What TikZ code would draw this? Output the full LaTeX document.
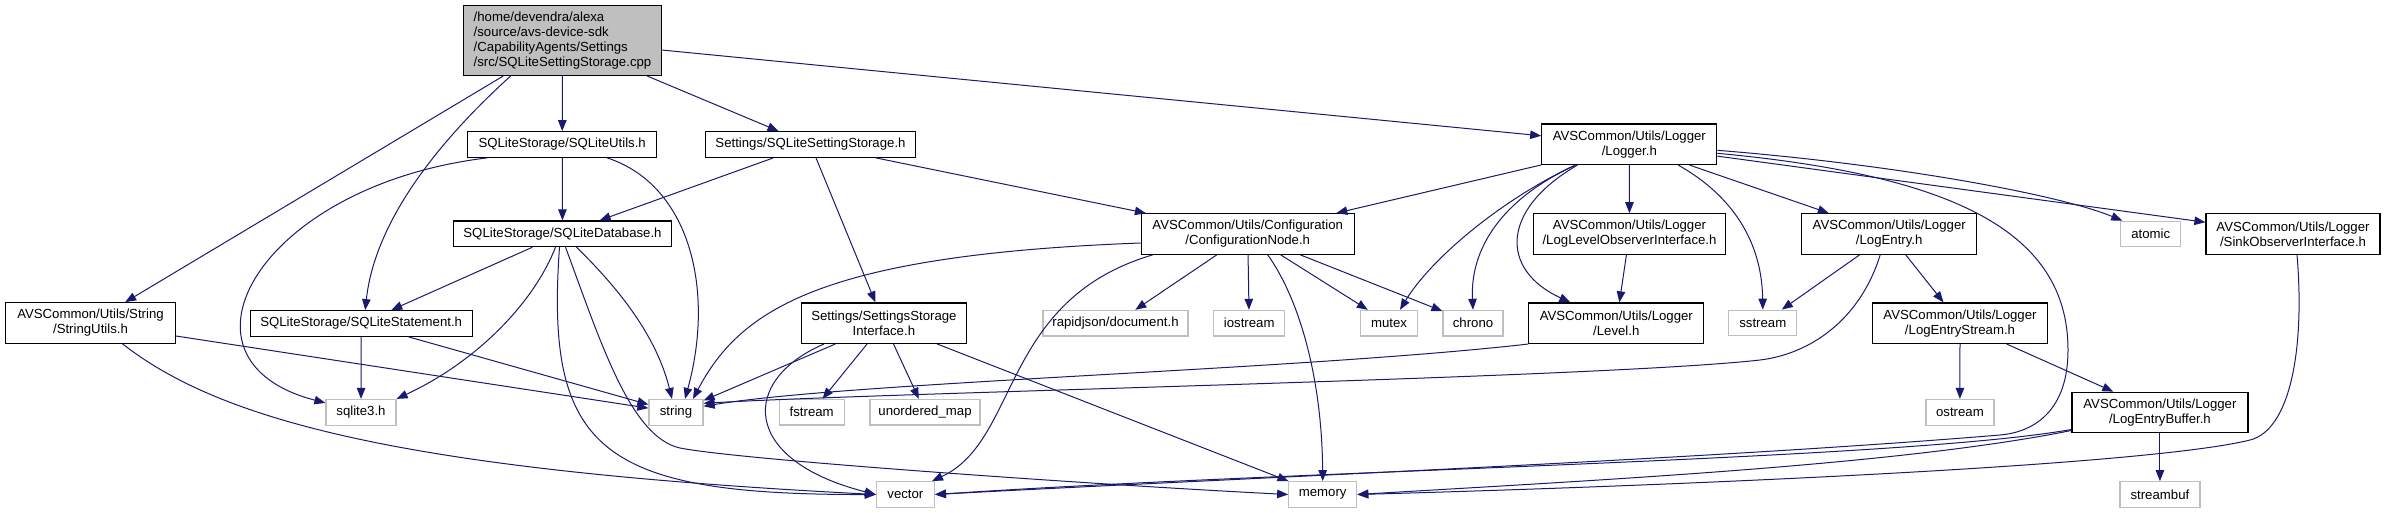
\documentclass[tikz,border=0pt]{standalone}
\usepackage{fontspec}
\setmainfont{Liberation Sans}
\usetikzlibrary{arrows.meta}
\definecolor{linkblue}{HTML}{191970}
\definecolor{sysgray}{HTML}{BFBFBF}
\definecolor{rootfill}{HTML}{BFBFBF}
\tikzset{
  hdr/.style={draw=black, line width=1.2pt, fill=white, align=center, inner sep=0pt,
              minimum height=25.6pt, font=\fontsize{13.2}{15}\selectfont},
  sys/.style={hdr, draw=sysgray},
  two/.style={minimum height=40.5pt},
  src/.style={hdr, fill=rootfill, align=left, minimum height=70pt},
  dep/.style={-{Triangle[length=11pt, width=8.5pt]}, line width=1pt, draw=linkblue},
}

\begin{document}
\begin{tikzpicture}[x=1pt, y=-1pt]
    \useasboundingbox (0,0) rectangle (2387,513);
    % files
    \node[src, minimum width=198pt] (src) at (562.5,40.5) {/home/devendra/alexa\\/source/avs-device-sdk\\/CapabilityAgents/Settings\\/src/SQLiteSettingStorage.cpp};
    \node[hdr, minimum width=189pt] (utils) at (562.2,144.5) {SQLiteStorage/SQLiteUtils.h};
    \node[hdr, minimum width=210pt] (setst) at (810.5,144.5) {Settings/SQLiteSettingStorage.h};
    \node[hdr, two, minimum width=175pt] (logger) at (1629.3,144.3) {AVSCommon/Utils/Logger\\/Logger.h};
    \node[hdr, two, minimum width=170pt] (strutil) at (90.5,323) {AVSCommon/Utils/String\\/StringUtils.h};
    \node[hdr, minimum width=218pt] (db) at (562.5,233.8) {SQLiteStorage/SQLiteDatabase.h};
    \node[hdr, minimum width=222pt] (stmt) at (361.2,323.5) {SQLiteStorage/SQLiteStatement.h};
    \node[hdr, two, minimum width=213pt] (conf) at (1247.7,234) {AVSCommon/Utils/Configuration\\/ConfigurationNode.h};
    \node[hdr, two, minimum width=192pt] (lvlobs) at (1629.5,234) {AVSCommon/Utils/Logger\\/LogLevelObserverInterface.h};
    \node[hdr, two, minimum width=175pt] (entry) at (1889.2,234) {AVSCommon/Utils/Logger\\/LogEntry.h};
    \node[sys, minimum width=60pt] (atomic) at (2150.8,234) {atomic};
    \node[hdr, two, minimum width=174pt] (sink) at (2293,234) {AVSCommon/Utils/Logger\\/SinkObserverInterface.h};
    \node[hdr, two, minimum width=165pt] (stif) at (883.9,323.2) {Settings/SettingsStorage\\Interface.h};
    \node[sys, minimum width=145pt] (rjson) at (1115.5,323.2) {rapidjson/document.h};
    \node[sys, minimum width=71pt] (iostream) at (1249.2,323.2) {iostream};
    \node[sys, minimum width=57pt] (mutex) at (1389,323.2) {mutex};
    \node[sys, minimum width=60pt] (chrono) at (1473,323.2) {chrono};
    \node[hdr, two, minimum width=175pt] (level) at (1616.3,323.2) {AVSCommon/Utils/Logger\\/Level.h};
    \node[sys, minimum width=68pt] (sstream) at (1762.8,323) {sstream};
    \node[hdr, two, minimum width=175pt] (stream) at (1960,323.2) {AVSCommon/Utils/Logger\\/LogEntryStream.h};
    \node[sys, minimum width=70pt] (sqlite) at (361,412.3) {sqlite3.h};
    \node[sys, minimum width=54pt] (string) at (676,412.3) {string};
    \node[sys, minimum width=65pt] (fstream) at (811.7,412.2) {fstream};
    \node[sys, minimum width=110pt] (umap) at (925,412.2) {unordered\_map};
    \node[sys, minimum width=68pt] (ostream) at (1959.9,412.3) {ostream};
    \node[hdr, two, minimum width=176pt] (buffer) at (2159.9,412.5) {AVSCommon/Utils/Logger\\/LogEntryBuffer.h};
    \node[sys, minimum width=58pt] (vector) at (905.4,494.5) {vector};
    \node[sys, minimum width=68pt] (memory) at (1322.7,494.5) {memory};
    \node[sys, minimum width=80pt] (sbuf) at (2159.9,494.5) {streambuf};
    % includes of the .cpp
    \draw[dep] (src) -- (utils);
    \draw[dep] (src) -- (setst);
    \draw[dep] (src) -- (logger);
    \draw[dep] (src) -- (strutil);
    \draw[dep] ([xshift=-52pt]src.south) .. controls (440,140) and (375,220) .. ([xshift=4pt]stmt.north);
    % SQLite headers
    \draw[dep] ([xshift=-75pt]utils.south) .. controls (260,185) and (160,360) .. ([yshift=-4pt]sqlite.north west);
    \draw[dep] ([xshift=45pt]utils.south) .. controls (690,185) and (715,290) .. ([xshift=9pt]string.north);
    \draw[dep] (utils) -- (db);
    \draw[dep] (setst) -- (db);
    \draw[dep] (setst) -- (conf);
    \draw[dep] (setst) -- (stif);
    \draw[dep] (db) -- (stmt);
    \draw[dep] ([xshift=-7pt]db.south) .. controls (535,300) and (480,360) .. (sqlite.north east);
    \draw[dep] ([xshift=14pt]db.south) .. controls (610,280) and (655,330) .. ([xshift=-4pt]string.north);
    \draw[dep] ([xshift=-3pt]db.south) .. controls (545,450) and (600,495) .. (vector.west);
    \draw[dep] ([xshift=3pt]db.south) .. controls (600,340) and (630,437) .. (680,448) .. controls (740,460) and (1100,485) .. (memory.west);
    \draw[dep] (strutil) -- (string);
    \draw[dep] ([xshift=32pt]strutil.south) .. controls (220,420) and (400,470) .. (vector.west);
    \draw[dep] (stmt) -- (sqlite);
    \draw[dep] (stmt) -- (string);
    % configuration and storage interface
    \draw[dep] ([yshift=-9pt]conf.west) .. controls (820,255) and (740,310) .. ([xshift=17pt]string.north);
    \draw[dep] ([xshift=-95pt]conf.south) .. controls (1000,300) and (1020,440) .. ([xshift=-3pt]vector.north east);
    \draw[dep] (conf) -- (rjson);
    \draw[dep] (conf) -- (iostream);
    \draw[dep] (conf) -- (mutex);
    \draw[dep] (conf) -- (chrono);
    \draw[dep] ([xshift=20pt]conf.south) .. controls (1300,300) and (1322,380) .. (memory.north);
    \draw[dep] (stif) -- (string);
    \draw[dep] ([xshift=-60pt]stif.south) .. controls (740,380) and (740,460) .. (vector.west);
    \draw[dep] (stif) -- (fstream);
    \draw[dep] (stif) -- (umap);
    \draw[dep] (stif) -- (memory);
    % logger
    \draw[dep] (logger) -- (conf);
    \draw[dep] ([xshift=-54pt]logger.south) .. controls (1500,200) and (1430,260) .. ([xshift=11pt]mutex.north);
    \draw[dep] ([xshift=-54pt]logger.south) .. controls (1500,200) and (1470,250) .. (chrono.north);
    \draw[dep] ([xshift=-52pt]logger.south) .. controls (1500,210) and (1500,270) .. ([xshift=-46pt]level.north);
    \draw[dep] (logger) -- (lvlobs);
    \draw[dep] (lvlobs) -- (level);
    \draw[dep] ([xshift=49pt]logger.south) .. controls (1740,200) and (1762,250) .. (sstream.north);
    \draw[dep] (logger) -- (entry);
    \draw[dep] ([yshift=-9pt]logger.east) .. controls (1950,175) and (2068,230) .. (2068,350) .. controls (2068,410) and (2035,432) .. (2000,435) .. controls (1700,460) and (1200,480) .. (vector.east);
    \draw[dep] ([yshift=-6pt]logger.east) .. controls (1900,165) and (2060,195) .. ([xshift=2pt]atomic.north west);
    \draw[dep] (logger) -- (sink);
    \draw[dep] (entry) -- (sstream);
    \draw[dep] (entry) -- (stream);
    \draw[dep] ([xshift=-9pt]entry.south) .. controls (1860,320) and (1810,354) .. (1760,360) .. controls (1600,378) and (900,392) .. ([yshift=9pt]string.east);
    \draw[dep] (level.south west) .. controls (1300,370) and (850,382) .. ([yshift=6pt]string.east);
    \draw[dep] (stream) -- (ostream);
    \draw[dep] (stream) -- (buffer);
    \draw[dep] (buffer) -- (sbuf);
    \draw[dep] ([yshift=-17pt]buffer.west) .. controls (1900,460) and (1300,470) .. (vector.east);
    \draw[dep] ([yshift=-18pt]buffer.west) .. controls (1900,465) and (1600,480) .. (memory.east);
    \draw[dep] ([xshift=4pt]sink.south) .. controls (2305,350) and (2290,430) .. (2250,440) .. controls (2150,465) and (1700,485) .. (memory.east);
\end{tikzpicture}
\end{document}
